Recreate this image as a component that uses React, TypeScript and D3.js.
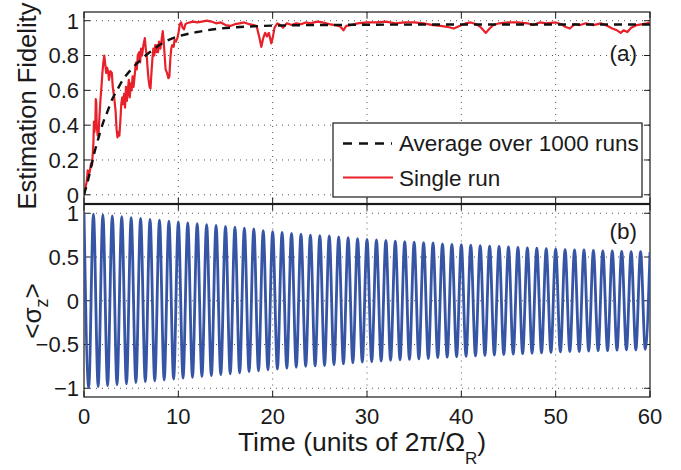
import React from 'react';
import * as d3 from 'd3';

// average over 1000 runs (t, fidelity)
const avgT = [0, 0.5, 1, 1.5, 2, 2.5, 3, 3.5, 4, 5, 6, 7, 8, 9, 10, 12, 14, 16, 18, 20, 25, 30, 40, 50, 60];
const avgF = [0, 0.1, 0.22, 0.32, 0.41, 0.48, 0.55, 0.6, 0.65, 0.72, 0.775, 0.82, 0.86, 0.89, 0.91, 0.935, 0.952, 0.962, 0.968, 0.972, 0.975, 0.977, 0.978, 0.978, 0.978];

// single run (t, fidelity)
const runT = [
  0, 0.15, 0.3, 0.4, 0.5, 0.6, 0.75, 0.85, 1.0, 1.05, 1.1, 1.2, 1.25, 1.3, 1.35, 1.45, 1.55, 1.65, 1.75, 1.85,
  1.95, 2.05, 2.15, 2.25, 2.35, 2.45, 2.55, 2.65, 2.8, 2.95, 3.05, 3.2, 3.35, 3.45, 3.55, 3.65, 3.75, 3.85, 3.95, 4.05,
  4.15, 4.25, 4.35, 4.45, 4.55, 4.65, 4.75, 4.85, 4.95, 5.05, 5.15, 5.25, 5.4, 5.5, 5.6, 5.7, 5.85, 5.95, 6.05, 6.15,
  6.3, 6.45, 6.55, 6.65, 6.75, 6.85, 6.95, 7.05, 7.15, 7.25, 7.35, 7.45, 7.55, 7.65, 7.75, 7.85, 7.95, 8.1, 8.25, 8.35,
  8.45, 8.55, 8.65, 8.8, 8.95, 9.05, 9.15, 9.25, 9.35, 9.5, 9.6, 9.75, 9.9, 10.05, 10.15, 10.3, 10.45, 10.6, 10.75, 10.9,
  11.2, 11.6, 12.0, 12.5, 13.0, 13.5, 14.0, 14.5, 15.0, 15.5, 16.0, 16.5, 17.0, 17.5, 18.0, 18.3, 18.6, 18.8, 19.0, 19.2,
  19.4, 19.6, 19.85, 20.0, 20.2, 20.5, 20.8, 21.1, 21.5, 22.0, 22.5, 23.0, 23.5, 24.0, 24.7, 25.3, 26.0, 26.6, 27.2, 27.5,
  27.8, 28.3, 29.0, 30.0, 31.0, 32.0, 33.0, 34.0, 35.0, 36.0, 37.0, 37.8, 38.5, 39.2, 39.8, 40.5, 41.0, 41.6, 42.1, 42.6,
  43.0, 43.4, 44.0, 45.0, 46.0, 47.0, 47.6, 48.3, 49.0, 50.0, 50.6, 51.0, 51.5, 52.0, 52.6, 53.2, 54.0, 54.8, 55.5, 56.0,
  56.5, 56.9, 57.2, 57.6, 58.0, 58.6, 59.2, 59.7, 60.0,
];
const runF = [
  0, 0.04, 0.08, 0.14, 0.12, 0.13, 0.18, 0.17, 0.3, 0.42, 0.36, 0.4, 0.55, 0.53, 0.4, 0.34, 0.36, 0.46, 0.55, 0.62,
  0.7, 0.76, 0.8, 0.75, 0.7, 0.73, 0.71, 0.66, 0.71, 0.7, 0.62, 0.56, 0.48, 0.38, 0.33, 0.36, 0.34, 0.42, 0.52, 0.56,
  0.52, 0.58, 0.5, 0.62, 0.54, 0.6, 0.66, 0.56, 0.64, 0.6, 0.68, 0.62, 0.7, 0.76, 0.72, 0.8, 0.82, 0.76, 0.84, 0.8,
  0.86, 0.9, 0.84, 0.8, 0.72, 0.66, 0.62, 0.61, 0.7, 0.78, 0.84, 0.8, 0.86, 0.82, 0.86, 0.82, 0.88, 0.84, 0.9, 0.94,
  0.88, 0.8, 0.72, 0.7, 0.67, 0.68, 0.78, 0.84, 0.86, 0.85, 0.89, 0.88, 0.9, 0.94, 0.98, 0.99, 0.96, 0.95, 0.98, 0.985,
  0.99, 0.995, 0.99, 0.995, 1.0, 0.995, 0.985, 0.99, 0.975, 0.97, 0.98, 0.985, 0.99, 0.98, 0.975, 0.97, 0.9, 0.85, 0.9, 0.93,
  0.91, 0.93, 0.87, 0.9, 0.96, 0.985, 0.975, 0.96, 0.985, 0.975, 0.985, 0.98, 0.99, 0.985, 0.995, 0.99, 0.98, 0.975, 0.965, 0.945,
  0.97, 0.975, 0.985, 0.99, 0.99, 0.995, 0.985, 0.99, 0.99, 0.985, 0.975, 0.97, 0.965, 0.955, 0.97, 0.985, 0.99, 0.98, 0.96, 0.93,
  0.955, 0.975, 0.985, 0.99, 0.99, 0.985, 0.975, 0.99, 0.985, 0.99, 0.98, 0.965, 0.955, 0.98, 0.975, 0.985, 0.975, 0.985, 0.97, 0.955,
  0.945, 0.93, 0.945, 0.935, 0.96, 0.975, 0.98, 0.985, 0.99,
];

// <sigma_z> maxima at t = 0,1,...,60 and minima at t = 0.5,1.5,...,59.5
const sigmaPeaks = [
  1.0, 0.99, 0.98, 0.97, 0.96, 0.95, 0.94, 0.93, 0.92, 0.91,
  0.9, 0.89, 0.88, 0.87, 0.86, 0.85, 0.84, 0.83, 0.82, 0.8,
  0.79, 0.78, 0.77, 0.76, 0.75, 0.745, 0.74, 0.73, 0.72, 0.71,
  0.7, 0.695, 0.69, 0.68, 0.675, 0.67, 0.665, 0.66, 0.65, 0.645,
  0.64, 0.635, 0.63, 0.625, 0.62, 0.615, 0.61, 0.605, 0.6, 0.595,
  0.59, 0.585, 0.58, 0.58, 0.575, 0.57, 0.57, 0.565, 0.56, 0.56, 0.555,
];
const sigmaTroughs = [
  -0.99, -0.98, -0.97, -0.96, -0.95, -0.935, -0.925, -0.915, -0.905, -0.895,
  -0.885, -0.875, -0.865, -0.855, -0.845, -0.835, -0.825, -0.81, -0.8, -0.79,
  -0.78, -0.77, -0.76, -0.75, -0.745, -0.74, -0.73, -0.72, -0.71, -0.7,
  -0.695, -0.69, -0.68, -0.675, -0.67, -0.665, -0.66, -0.65, -0.645, -0.64,
  -0.635, -0.63, -0.625, -0.62, -0.615, -0.61, -0.605, -0.6, -0.595, -0.59,
  -0.585, -0.58, -0.58, -0.575, -0.57, -0.57, -0.565, -0.56, -0.56, -0.555,
];

const xTicks = [0, 10, 20, 30, 40, 50, 60];
const fidTicks = [0, 0.2, 0.4, 0.6, 0.8, 1];
const sigTicks = [-1, -0.5, 0, 0.5, 1];

const W = 681;
const H = 470;
const FONT = '"Liberation Sans", Arial, Helvetica, sans-serif';
const INK = '#1a1a1a';

const x = d3.scaleLinear().domain([0, 60]).range([84, 650]);
const yTop = d3.scaleLinear().domain([-0.05, 1.05]).range([203.5, 12]);
const yBot = d3.scaleLinear().domain([-1.1, 1.1]).range([397, 204.5]);

const fmt = (v: number) => (v < 0 ? '\u2212' + String(-v) : String(v));

const Panel = ({ y, yTicks, showX, label, labelY }: any) => {
  const [y0, y1] = y.range();
  const x0 = x.range()[0];
  const x1 = x.range()[1];
  const tl = 6;
  return (
    <g>
      {xTicks.filter((t) => t > 0 && t < 60).map((t) => (
        <line key={'gx' + t} x1={x(t)} x2={x(t)} y1={y1} y2={y0} stroke="#555" strokeWidth={1} strokeDasharray="1,5" />
      ))}
      {yTicks.map((t: number) => (
        <line key={'gy' + t} x1={x0} x2={x1} y1={y(t)} y2={y(t)} stroke="#555" strokeWidth={1} strokeDasharray="1,5" />
      ))}
      <rect x={x0} y={y1} width={x1 - x0} height={y0 - y1} fill="none" stroke={INK} strokeWidth={1.2} />
      {xTicks.map((t) => (
        <g key={'tx' + t}>
          <line x1={x(t)} x2={x(t)} y1={y0} y2={y0 - tl} stroke={INK} />
          <line x1={x(t)} x2={x(t)} y1={y1} y2={y1 + tl} stroke={INK} />
        </g>
      ))}
      {yTicks.map((t: number) => (
        <g key={'ty' + t}>
          <line x1={x0} x2={x0 + tl} y1={y(t)} y2={y(t)} stroke={INK} />
          <line x1={x1} x2={x1 - tl} y1={y(t)} y2={y(t)} stroke={INK} />
          <text x={79} y={y(t)} dy="0.36em" textAnchor="end" fontSize={22} fill={INK}>
            {fmt(t)}
          </text>
        </g>
      ))}
      {showX &&
        xTicks.map((t) => (
          <text key={'lx' + t} x={x(t)} y={424} textAnchor="middle" fontSize={22} fill={INK}>
            {t}
          </text>
        ))}
      <text x={637} y={labelY} textAnchor="end" fontSize={22.5} fill={INK}>
        {label}
      </text>
    </g>
  );
};

const App = () => {
  const avg = avgT.map((t, i) => [t, avgF[i]] as [number, number]);
  const run = runT.map((t, i) => [t, runF[i]] as [number, number]);
  const sig: [number, number][] = [];
  sigmaPeaks.forEach((p, i) => {
    sig.push([i, p]);
    if (i < sigmaTroughs.length) sig.push([i + 0.5, sigmaTroughs[i]]);
  });

  const lineTop = d3
    .line<[number, number]>()
    .x((d) => x(d[0]))
    .y((d) => yTop(d[1]));
  const lineAvg = d3
    .line<[number, number]>()
    .x((d) => x(d[0]))
    .y((d) => yTop(d[1]))
    .curve(d3.curveMonotoneX);
  const lineSig = d3
    .line<[number, number]>()
    .x((d) => x(d[0]))
    .y((d) => yBot(d[1]))
    .curve(d3.curveMonotoneX);

  return (
    <svg width={W} height={H} style={{ position: 'absolute', left: 0, top: 0, background: '#fff' }} fontFamily={FONT}>
      <defs>
        <clipPath id="cTop">
          <rect x={84} y={12} width={566} height={191.5} />
        </clipPath>
        <clipPath id="cBot">
          <rect x={84} y={204.5} width={566} height={192.5} />
        </clipPath>
      </defs>

      <Panel y={yTop} yTicks={fidTicks} showX={false} label="(a)" labelY={61} />
      <Panel y={yBot} yTicks={sigTicks} showX={true} label="(b)" labelY={239} />

      <g clipPath="url(#cTop)">
        <path d={lineTop(run) || ''} fill="none" stroke="#e8202a" strokeWidth={2.2} strokeLinejoin="round" />
        <path d={lineAvg(avg) || ''} fill="none" stroke="#111" strokeWidth={2.4} strokeDasharray="8,6" />
      </g>
      <g clipPath="url(#cBot)">
        <path d={lineSig(sig) || ''} fill="none" stroke="#3755a5" strokeWidth={2.8} />
      </g>

      {/* legend */}
      <rect x={333} y={123} width={309} height={74} fill="#fff" stroke={INK} strokeWidth={1.2} />
      <line x1={343} x2={392} y1={143.5} y2={143.5} stroke="#111" strokeWidth={2.4} strokeDasharray="9,7" />
      <text x={399} y={151} fontSize={22.5} fill={INK}>Average over 1000 runs</text>
      <line x1={343} x2={393} y1={177.5} y2={177.5} stroke="#e8202a" strokeWidth={2.2} />
      <text x={399} y={185.5} fontSize={22.5} fill={INK}>Single run</text>

      {/* axis labels */}
      <text transform="translate(36,106) rotate(-90)" textAnchor="middle" fontSize={25.5} fill={INK}>
        Estimation Fidelity
      </text>
      <text transform="translate(41,311) rotate(-90)" textAnchor="middle" fontSize={26} fill={INK}>
        {'<\u03c3'}
        <tspan fontSize={18} dy={7}>z</tspan>
        <tspan dy={-7}>{'>'}</tspan>
      </text>
      <text x={362} y={451} textAnchor="middle" fontSize={26.5} fill={INK}>
        {'Time (units of 2\u03c0/\u03a9'}
        <tspan fontSize={17} dy={13}>R</tspan>
        <tspan dy={-13}>)</tspan>
      </text>
    </svg>
  );
};

export default App;
